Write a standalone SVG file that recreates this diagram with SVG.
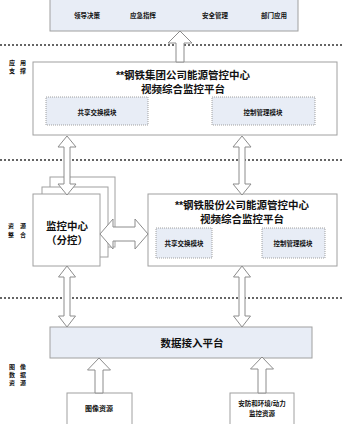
<svg xmlns="http://www.w3.org/2000/svg" width="344" height="424" viewBox="0 0 344 424">
<style>
text{font-family:"Liberation Sans","Noto Sans CJK SC",sans-serif;font-weight:bold;fill:#111;text-anchor:middle;dominant-baseline:central}
.box{fill:#fff;stroke:#a0a0a0;stroke-width:1}
.blue{fill:#e8edf6;stroke:#a0a0a0;stroke-width:1}
.mod{fill:#e8edf6;stroke:#8a8a8a;stroke-width:0.8;stroke-dasharray:1 1}
.arr{fill:#fff;stroke:#8c8c8c;stroke-width:1}
.dot{stroke:#333;stroke-width:1.4;stroke-dasharray:2 2;fill:none}
.s6{font-size:6.5px}
.s7{font-size:7px}
.lab{font-size:6px}
.t10{font-size:10.5px}
.t11{font-size:10.5px}
</style>
<rect width="344" height="424" fill="#fff"/>
<g id="layers">
<line class="dot" x1="0" y1="45" x2="344" y2="45"/>
<line class="dot" x1="0" y1="160" x2="344" y2="160"/>
<line class="dot" x1="0" y1="298" x2="344" y2="298"/>
<text class="lab" x="12" y="63">应</text><text class="lab" x="23" y="63">用</text>
<text class="lab" x="12" y="71">支</text><text class="lab" x="23" y="71">撑</text>
<text class="lab" x="11" y="226">资</text><text class="lab" x="23" y="226">源</text>
<text class="lab" x="11" y="235">整</text><text class="lab" x="23" y="235">合</text>
<text class="lab" x="12" y="367">图</text><text class="lab" x="23" y="367">像</text>
<text class="lab" x="12" y="375">数</text><text class="lab" x="23" y="375">据</text>
<text class="lab" x="12" y="383">资</text><text class="lab" x="23" y="383">源</text>
</g>
<g id="apps">
<rect class="blue" x="50" y="-1" width="248" height="32"/>
<text class="s6" x="87" y="15">领导决策</text>
<text class="s6" x="143" y="15">应急指挥</text>
<text class="s6" x="215" y="15">安全管理</text>
<text class="s6" x="274" y="15">部门应用</text>
</g>
<g id="group-platform">
<rect class="box" x="33" y="62" width="304" height="73"/>
<text class="t11" x="183" y="75">**钢铁集团公司能源管控中心</text>
<text class="t11" x="183" y="89">视频综合监控平台</text>
<rect class="mod" x="46" y="97" width="102" height="28"/>
<text class="s6" x="97" y="112">共享交换模块</text>
<rect class="mod" x="212" y="97" width="103" height="28"/>
<text class="s6" x="263" y="112">控制管理模块</text>
</g>
<g id="monitor-center">
<rect class="box" x="50" y="177" width="65" height="70"/>
<rect class="box" x="42" y="187" width="66" height="70"/>
<rect class="box" x="33" y="194" width="67" height="72"/>
<text class="t10" x="67" y="226">监控中心</text>
<text class="t10" x="67" y="240">（分控）</text>
</g>
<g id="share-platform">
<rect class="box" x="148" y="194" width="189" height="72"/>
<text class="t10" x="242" y="205">**钢铁股份公司能源管控中心</text>
<text class="t10" x="242" y="219">视频综合监控平台</text>
<rect class="mod" x="156" y="228" width="56" height="30"/>
<text class="s6" x="184" y="243">共享交换模块</text>
<rect class="mod" x="262" y="228" width="63" height="30"/>
<text class="s6" x="293" y="243">控制管理模块</text>
</g>
<g id="data-access">
<rect class="blue" x="50" y="327" width="262" height="31"/>
<text class="t10" x="192" y="343">数据接入平台</text>
</g>
<g id="image-res">
<rect class="box" x="67" y="393" width="65" height="32"/>
<text class="s7" x="99" y="408">图像资源</text>
</g>
<g id="env-res">
<rect class="box" x="230" y="393" width="64" height="32"/>
<text class="s6" x="262" y="403">安防和环境/动力</text>
<text class="s6" x="262" y="413">监控资源</text>
</g>
<g id="connectors">
<polygon class="arr" points="180,31 192,43 184,43 184,62 176,62 176,43 168,43"/>
<polygon class="arr" points="67,136 76,147 70,147 70,184 76,184 67,195 58,184 64,184 64,147 58,147"/>
<polygon class="arr" points="242,136 251,147 245,147 245,184 251,184 242,195 233,184 239,184 239,147 233,147"/>
<polygon class="arr" points="67,266 75.5,277 70,277 70,316 75.5,316 67,327 58.5,316 64,316 64,277 58.5,277"/>
<polygon class="arr" points="242,266 250.5,277 245,277 245,316 250.5,316 242,327 233.5,316 239,316 239,277 233.5,277"/>
<polygon class="arr" points="100,234 113,219 113,227 135,227 135,219 148,234 135,249 135,241 113,241 113,249"/>
<polygon class="arr" points="99,358 110.5,370 103,370 103,393 95,393 95,370 87.5,370"/>
<polygon class="arr" points="262,357 273.5,369 266,369 266,393 258,393 258,369 250.5,369"/>
</g>
</svg>
